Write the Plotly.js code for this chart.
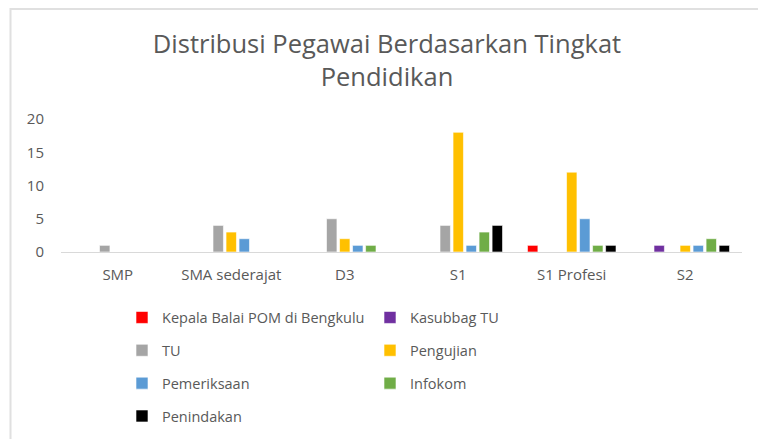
<!DOCTYPE html>
<html>
<head>
<meta charset="utf-8">
<script src="https://cdn.plot.ly/plotly-3.0.1.min.js"></script>
<style>html,body{margin:0;padding:0;background:#fff;}#chart{width:758px;height:439px;}</style>
</head>
<body>
<div id="chart"></div>
<script>
const categories = ["SMP", "SMA sederajat", "D3", "S1", "S1 Profesi", "S2"];
const seriesNames = ["Kepala Balai POM di Bengkulu", "Kasubbag TU", "TU", "Pengujian", "Pemeriksaan", "Infokom", "Penindakan"];
const kepala      = [0, 0, 0, 0, 1, 0];
const kasubbag    = [0, 0, 0, 0, 0, 1];
const tu          = [1, 4, 5, 4, 0, 0];
const pengujian   = [0, 3, 2, 18, 12, 1];
const pemeriksaan = [0, 2, 1, 1, 5, 1];
const infokom     = [0, 0, 1, 3, 1, 2];
const penindakan  = [0, 0, 0, 4, 1, 1];
const yTicks = [0, 5, 10, 15, 20];

const values = [kepala, kasubbag, tu, pengujian, pemeriksaan, infokom, penindakan];
const colors = ["#ff0000", "#7030a0", "#a5a5a5", "#ffc000", "#5b9bd5", "#70ad47", "#000000"];
const legendOf = ["legend", "legend2", "legend", "legend2", "legend", "legend2", "legend"];

const FONT = "Open Sans, sans-serif";
const GREY = "#595959";

const traces = seriesNames.map((name, i) => ({
  type: "bar",
  name: name,
  x: categories,
  y: values[i].map(v => v === 0 ? null : v),
  marker: {color: colors[i], line: {color: "#ffffff", width: 0.6}},
  legend: legendOf[i],
  legendgroup: "g" + i,
  hoverinfo: "x+y+name"
}));

const W = 758, H = 439, L = 61, R = 16, T = 119, B = 187;
const pw = W - L - R, ph = H - T - B;
const px = v => (v - L) / pw;
const py = v => (H - B - v) / ph;

const legendCommon = {
  orientation: "v",
  font: {family: FONT, size: 14.5, color: GREY},
  bgcolor: "rgba(0,0,0,0)",
  xanchor: "left",
  yanchor: "top",
  tracegroupgap: 11,
  traceorder: "grouped",
  itemclick: false
};

const layout = {
  width: W, height: H,
  margin: {l: L, r: R, t: T, b: B, pad: 0, autoexpand: false},
  paper_bgcolor: "#ffffff",
  plot_bgcolor: "#ffffff",
  title: {
    text: "Distribusi Pegawai Berdasarkan Tingkat<br>Pendidikan",
    font: {family: FONT, size: 25.5, color: GREY},
    xref: "container", x: 387 / W, xanchor: "center",
    yref: "container", y: 1 - 53 / H, yanchor: "top"
  },
  barmode: "group",
  bargap: 0.197,
  bargroupgap: 0.2,
  xaxis: {
    type: "category",
    showline: true, linecolor: "#d9d9d9", linewidth: 1.3,
    showgrid: false, zeroline: false, ticks: "",
    tickfont: {family: FONT, size: 15, color: GREY},
    ticklabelstandoff: 9,
    automargin: false
  },
  yaxis: {
    range: [0, 20], tickvals: yTicks, ticktext: yTicks.map(String),
    showgrid: false, zeroline: false, showline: false, ticks: "",
    tickfont: {family: FONT, size: 15, color: GREY},
    ticklabelstandoff: 16,
    automargin: false, fixedrange: true
  },
  showlegend: true,
  legend: Object.assign({}, legendCommon, {x: px(122), y: py(301.5)}),
  legend2: Object.assign({}, legendCommon, {x: px(370), y: py(301.5)}),
  shapes: [{
    type: "rect", xref: "paper", yref: "paper",
    x0: px(10.5), x1: px(800), y0: py(480), y1: py(9),
    line: {color: "#e0e0e0", width: 2}, fillcolor: "rgba(0,0,0,0)", layer: "below"
  }]
};

Plotly.newPlot("chart", traces, layout, {displayModeBar: false, staticPlot: true});
</script>
</body>
</html>
